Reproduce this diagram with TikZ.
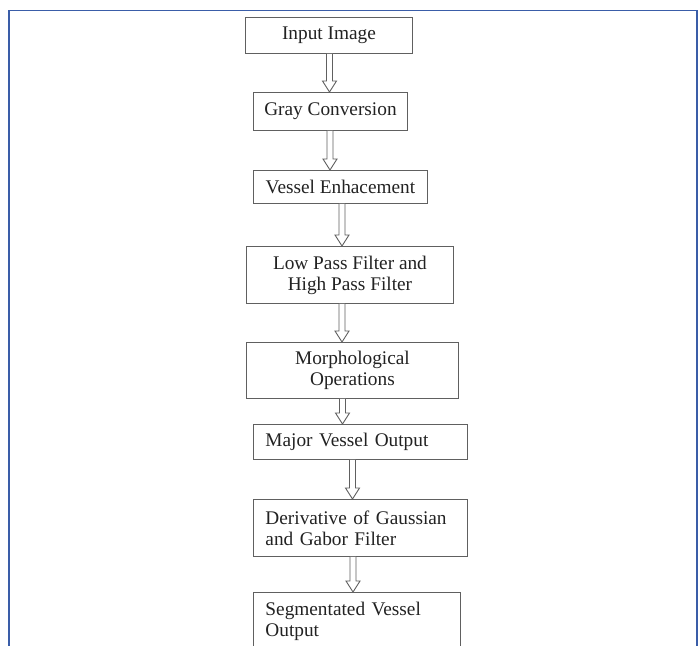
\documentclass[tikz,border=0pt]{standalone}
\usepackage{fontspec}
\setmainfont{Liberation Serif}
\usetikzlibrary{calc}
\definecolor{frameblue}{HTML}{3A5DA8}
\definecolor{boxline}{HTML}{606060}
\definecolor{txt}{HTML}{222222}
\tikzset{
  stage/.style={draw=boxline, line width=0.9pt, anchor=north west, inner sep=0pt,
    font=\fontsize{19.3}{21}\selectfont, text=txt, align=center},
  leftstage/.style={stage, align=left, text width=#1, inner xsep=12pt},
  flow/.style={draw=boxline, line width=0.9pt, fill=white, line join=miter},
  frameline/.style={draw=frameblue, line width=1.6pt}
}
\newcommand\flowarrow[3]{%
  \draw[flow] ($(#1.south -| #3)+(-3,0)$) -- ($(#2.north -| #3)+(-3,11)$) -- ++(-4,0)
    -- (#2.north -| #3) -- ($(#2.north -| #3)+(7,11)$) -- ++(-4,0)
    -- ($(#1.south -| #3)+(3,0)$);}
\begin{document}
\begin{tikzpicture}[x=1pt,y=1pt]
\useasboundingbox (0,0) rectangle (700,-645);
\clip (0,0) rectangle (700,-645);
\fill[white] (0,0) rectangle (700,-645);
\draw[frameline] (9,-660) -- (9,-10.5) -- (697,-10.5) -- (697,-660);

\node[stage, minimum width=167pt, minimum height=36pt] (in) at (245,-17) {Input Image};
\node[stage, minimum width=154pt, minimum height=38pt] (gray) at (253,-92) {Gray Conversion};
\node[stage, minimum width=174pt, minimum height=33pt] (ves) at (253,-170) {Vessel Enhacement};
\node[stage, minimum width=207pt, minimum height=57pt] (lpf) at (246,-246) {Low Pass Filter and\\High Pass Filter};
\node[stage, minimum width=212pt, minimum height=56pt] (morph) at (246,-342) {Morphological\\Operations};
\node[leftstage=190pt, minimum height=35pt] (major) at (253,-424) {Major Vessel Output};
\node[leftstage=190pt, minimum height=57pt] (deriv) at (253,-499) {Derivative of Gaussian\\and Gabor Filter};
\node[leftstage=183pt, minimum height=58pt] (seg) at (253,-592) {Segmentated Vessel\\Output};

\coordinate (k1) at (329.5,0);
\coordinate (k2) at (330,0);
\coordinate (k3) at (342,0);
\coordinate (k4) at (342,0);
\coordinate (k5) at (342.5,0);
\coordinate (k6) at (352.5,0);
\coordinate (k7) at (353,0);

\flowarrow{in}{gray}{k1}
\flowarrow{gray}{ves}{k2}
\flowarrow{ves}{lpf}{k3}
\flowarrow{lpf}{morph}{k4}
\flowarrow{morph}{major}{k5}
\flowarrow{major}{deriv}{k6}
\flowarrow{deriv}{seg}{k7}
\end{tikzpicture}
\end{document}
